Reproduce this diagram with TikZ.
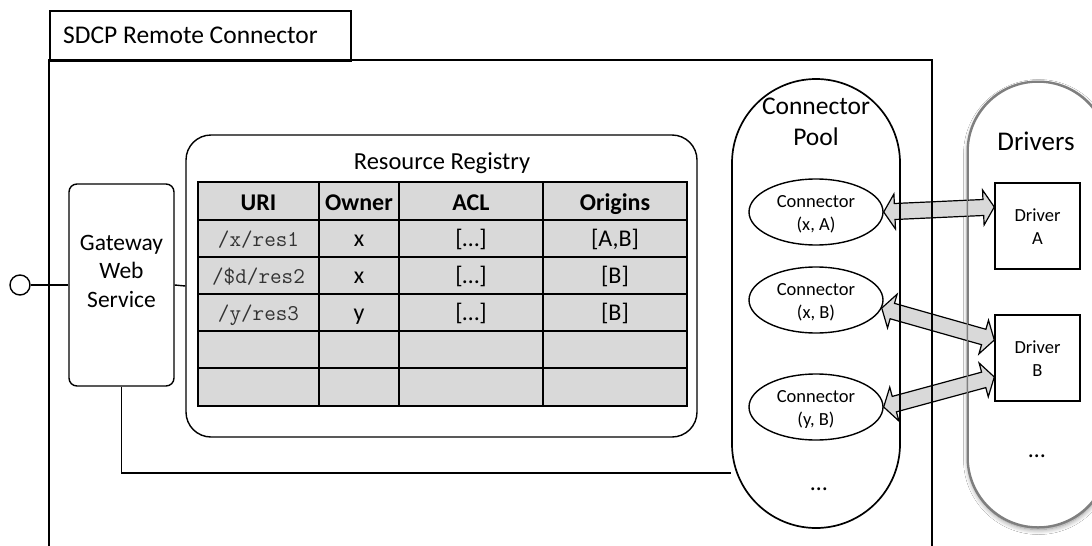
\documentclass[tikz,border=0pt]{standalone}
\usepackage{fontspec}
\setmainfont{Carlito}
\usetikzlibrary{calc,shapes.geometric,shadows.blur}
\definecolor{cellgray}{HTML}{D9D9D9}
\definecolor{drvgray}{HTML}{7F7F7F}
\definecolor{monogray}{HTML}{333333}
\newcommand\fs[1]{\fontsize{#1}{#1}\selectfont}
\def\arrhd{11pt}
\def\arrhw{17.5pt}
\def\arrsw{8pt}
\newcommand\dblarrow[2]{%
 \filldraw[blockarr]
  (#1)
  -- ($(#1)!\arrhd!(#2)!\arrhw!90:(#2)$)
  -- ($(#1)!\arrhd!(#2)!\arrsw!90:(#2)$)
  -- ($(#2)!\arrhd!(#1)!\arrsw!-90:(#1)$)
  -- ($(#2)!\arrhd!(#1)!\arrhw!-90:(#1)$)
  -- (#2)
  -- ($(#2)!\arrhd!(#1)!\arrhw!90:(#1)$)
  -- ($(#2)!\arrhd!(#1)!\arrsw!90:(#1)$)
  -- ($(#1)!\arrhd!(#2)!\arrsw!-90:(#2)$)
  -- ($(#1)!\arrhd!(#2)!\arrhw!-90:(#2)$)
  -- cycle;}
\begin{document}
\begin{tikzpicture}[x=1pt,y=-1pt,
  frame/.style={line width=1.7pt},
  thin/.style={line width=1.4pt},
  txt/.style={inner sep=0pt, anchor=base},
  mono/.style={txt, font=\ttfamily\fs{22.5}, text=monogray},
  blockarr/.style={fill=cellgray, draw=black, line width=1.2pt, line join=miter},
  plainbox/.style={draw, inner sep=0pt},
]
\useasboundingbox (0,0) rectangle (1092,546);
\clip (0,0) rectangle (1092,546);
\fill[white] (0,0) rectangle (1092,546);

% Drivers column
\node[draw=drvgray, line width=1.5pt, fill=white, rounded corners=70pt,
  minimum width=140pt, minimum height=445pt, inner sep=0pt,
  blur shadow={shadow blur steps=12, shadow xshift=0.5pt, shadow yshift=-2.5pt,
  shadow blur radius=5pt, shadow opacity=45}] (drv) at (1038,304.5) {};
\node[txt, font=\fs{27}] (drvT) at (1036,150) {Drivers};
\node[plainbox, thin, fill=white, minimum width=85pt, minimum height=86pt] (dA) at (1037.5,226) {};
\node[txt, font=\fs{18.5}] (dAt1) at (1037.5,221.5) {Driver};
\node[txt, font=\fs{18.5}] (dAt2) at (1037.5,244) {A};
\node[plainbox, thin, fill=white, minimum width=85pt, minimum height=86pt] (dB) at (1037.5,358) {};
\node[txt, font=\fs{18.5}] (dBt1) at (1037.5,353.5) {Driver};
\node[txt, font=\fs{18.5}] (dBt2) at (1037.5,376) {B};
\node[txt, font=\fs{24}] (drvDots) at (1037,457) {…};

% Connector ellipses (shapes only, for anchors)
\node[ellipse, thin, minimum width=134pt, minimum height=66pt, inner sep=0pt] (cA) at (816,212) {};
\node[ellipse, thin, minimum width=134pt, minimum height=66pt, inner sep=0pt] (cB) at (816,300) {};
\node[ellipse, thin, minimum width=134pt, minimum height=66pt, inner sep=0pt] (cC) at (816,407) {};

% block arrows
\coordinate (a1s) at (cA.east);
\coordinate (a1e) at ($(dA.west)+(0,-19)$);
\coordinate (a2s) at (cB.-7);
\coordinate (a2e) at ($(dB.west)+(0,-18)$);
\coordinate (a3s) at (cC.east);
\coordinate (a3e) at ($(dB.west)+(0,19)$);
\dblarrow{a1s}{a1e}
\dblarrow{a2s}{a2e}
\dblarrow{a3s}{a3e}
\draw[draw=drvgray, line width=1.5pt, rounded corners=70pt] (drv.south west) rectangle (drv.north east);

% outer frame
\draw[frame] (49,560) -- (49,60) -- (932,60) -- (932,560);
\node[plainbox, frame, minimum width=301pt, minimum height=50pt, anchor=north west] (tab) at (49,10) {};
\node[txt, anchor=base west, font=\fs{25.5}] (tabT) at (63,43) {SDCP Remote Connector};

% connector pool
\node[plainbox, frame, rounded corners=84pt, minimum width=168pt, minimum height=449pt] (pool) at (816,303.5) {};
\node[txt, font=\fs{25.5}] (poolT1) at (816,114) {Connector};
\node[txt, font=\fs{25.5}] (poolT2) at (816,145) {Pool};
\node[txt, font=\fs{24}] (poolDots) at (819,490) {…};

\draw[thin] (cA.center) ellipse (67 and 33);
\draw[thin] (cB.center) ellipse (67 and 33);
\draw[thin] (cC.center) ellipse (67 and 33);
\node[txt, font=\fs{18.5}] (cAt1) at (816,207.5) {Connector};
\node[txt, font=\fs{18.5}] (cAt2) at (816,230.5) {(x, A)};
\node[txt, font=\fs{18.5}] (cBt1) at (816,295.5) {Connector};
\node[txt, font=\fs{18.5}] (cBt2) at (816,318.5) {(x, B)};
\node[txt, font=\fs{18.5}] (cCt1) at (816,402.5) {Connector};
\node[txt, font=\fs{18.5}] (cCt2) at (816,425.5) {(y, B)};

% gateway
\node[plainbox, thin, rounded corners=8pt, minimum width=105pt, minimum height=202pt] (gw) at (121.5,285) {};
\node[txt, font=\fs{23.5}] (gwT1) at (121.5,250) {Gateway};
\node[txt, font=\fs{23.5}] (gwT2) at (121.5,278) {Web};
\node[txt, font=\fs{23.5}] (gwT3) at (121.5,307) {Service};
\node[plainbox, thin, circle, fill=white, minimum size=20pt] (ifc) at (20,285) {};
\draw[thin] (ifc.east) -- (gw.west);

% registry
\node[plainbox, thin, rounded corners=25pt, minimum width=511pt, minimum height=302pt] (reg) at (441.5,286) {};
\node[txt, font=\fs{24.5}] (regT) at (442,169) {Resource Registry};
\draw[thin] (gw.east) -- (reg.west);

\coordinate (gwj) at (121.5,473);
\draw[thin] (gw.south) -- (gwj) -- (gwj -| pool.west);

% table
\fill[cellgray] (198,182) rectangle (687,406);
\foreach \yy in {220,257,294,331,368} \draw[line width=1.5pt] (198,\yy) -- (687,\yy);
\foreach \xx in {319,399,543} \draw[line width=1.5pt] (\xx,182) -- (\xx,406);
\draw[line width=1.5pt] (198,182) rectangle (687,406);

\node[txt, font=\fs{24}\bfseries] (h1) at (258.5,210) {URI};
\node[txt, font=\fs{24}\bfseries] (h2) at (359,210) {Owner};
\node[txt, font=\fs{24}\bfseries] (h3) at (471,210) {ACL};
\node[txt, font=\fs{24}\bfseries] (h4) at (615,210) {Origins};

\node[mono] (r1a) at (258.5,246) {/x/res1};
\node[txt, font=\fs{24}] (r1b) at (359,246) {x};
\node[txt, font=\fs{24}] (r1c) at (471,246) {[…]};
\node[txt, font=\fs{24}] (r1d) at (615,246) {[A,B]};

\node[mono] (r2a) at (258.5,283) {/\$d/res2};
\node[txt, font=\fs{24}] (r2b) at (359,283) {x};
\node[txt, font=\fs{24}] (r2c) at (471,283) {[…]};
\node[txt, font=\fs{24}] (r2d) at (615,283) {[B]};

\node[mono] (r3a) at (258.5,320) {/y/res3};
\node[txt, font=\fs{24}] (r3b) at (359,320) {y};
\node[txt, font=\fs{24}] (r3c) at (471,320) {[…]};
\node[txt, font=\fs{24}] (r3d) at (615,320) {[B]};
\end{tikzpicture}
\end{document}
